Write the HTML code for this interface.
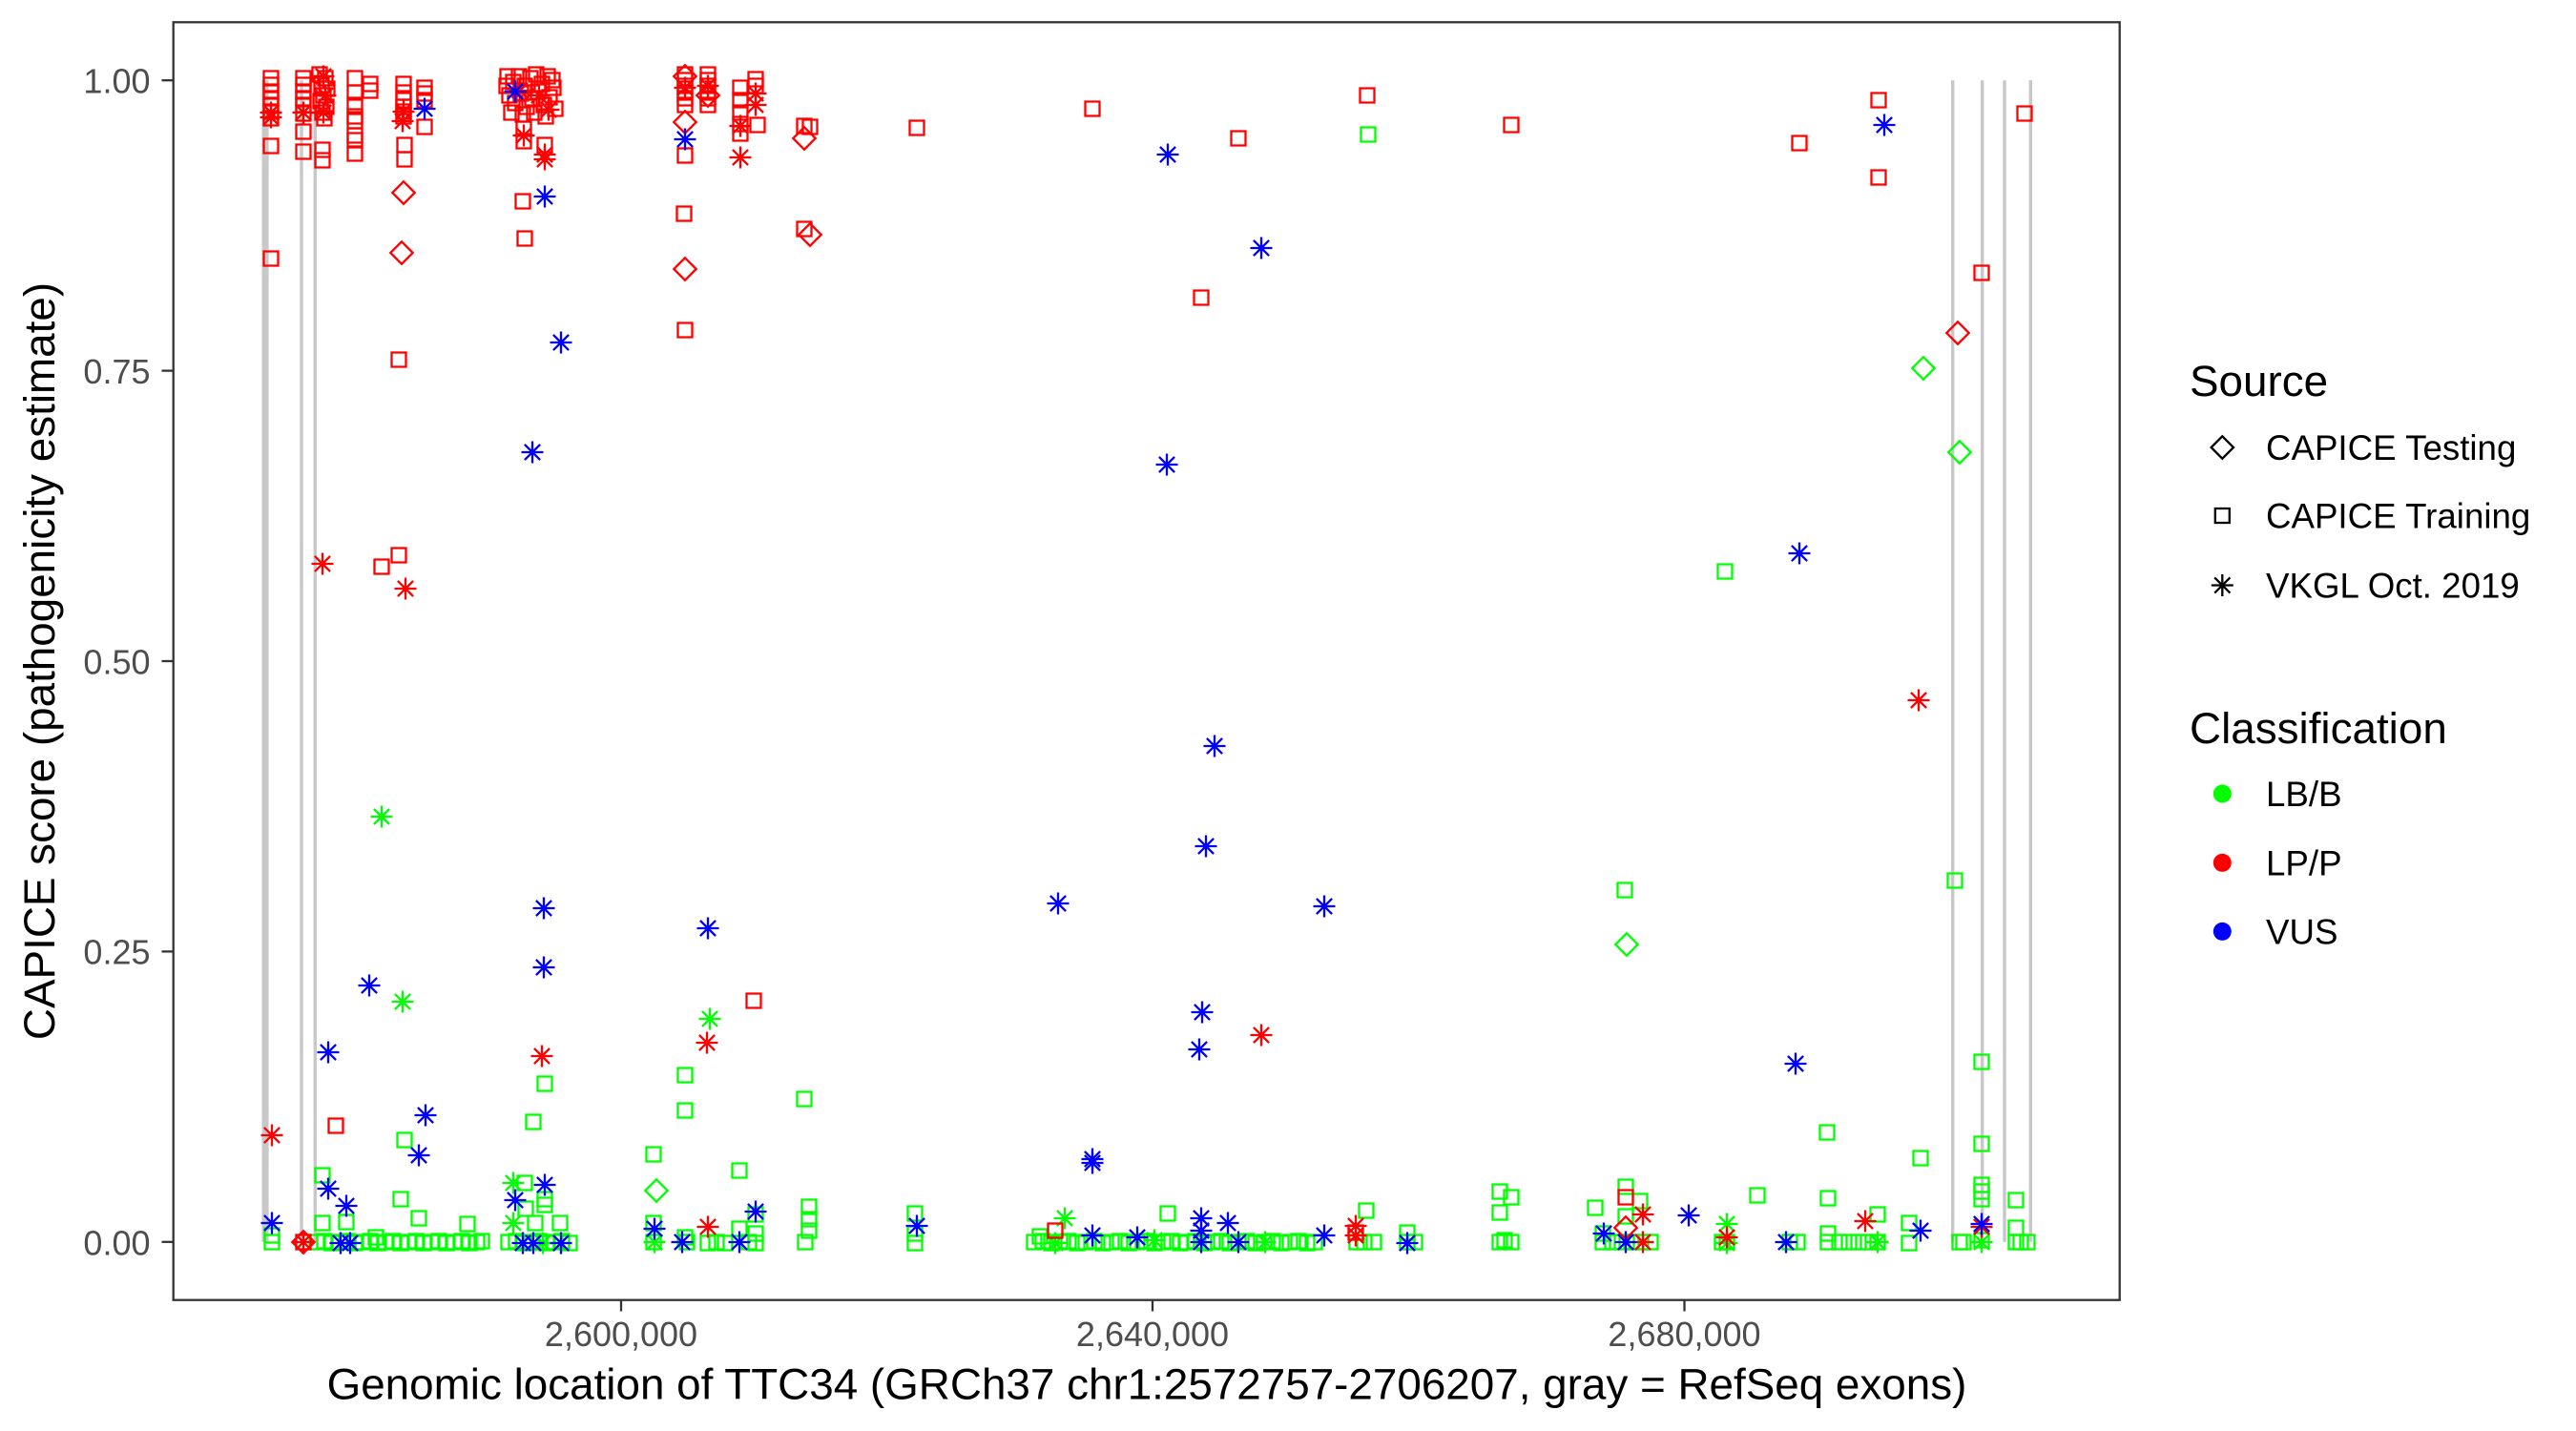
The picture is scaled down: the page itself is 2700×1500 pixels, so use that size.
<!DOCTYPE html>
<html><head><meta charset="utf-8"><style>html,body{margin:0;padding:0;background:#fff}svg{display:block}text{font-family:"Liberation Sans",Arial,sans-serif}</style></head>
<body>
<svg width="2700" height="1500" viewBox="0 0 2700 1500" xmlns="http://www.w3.org/2000/svg">
<defs>
<path id="s" d="M-7.5 -7.5H7.5V7.5H-7.5Z"/>
<path id="d" d="M0 -11.7L11.7 0L0 11.7L-11.7 0Z"/>
<path id="a" d="M0 -11.5V11.5M-11.5 0H11.5M-8.1 -8.1L8.1 8.1M-8.1 8.1L8.1 -8.1"/>
</defs>
<rect width="2700" height="1500" fill="#fff"/>
<g fill="#c8c8c8">
<rect x="274.5" y="84.2" width="7.1" height="1217.6"/>
<rect x="314.3" y="84.2" width="3.4" height="1217.6"/>
<rect x="328.6" y="84.2" width="3.4" height="1217.6"/>
<rect x="2045" y="84.2" width="3.4" height="1217.6"/>
<rect x="2076" y="84.2" width="3.4" height="1217.6"/>
<rect x="2099.3" y="84.2" width="3.4" height="1217.6"/>
<rect x="2126.6" y="84.2" width="3.4" height="1217.6"/>
</g>
<g fill="none" stroke="#00ff00" stroke-width="2.3">
<use href="#s" x="1434" y="141"/><use href="#s" x="2049" y="923"/><use href="#s" x="1703" y="933"/><use href="#s" x="1808" y="599"/><use href="#s" x="2077" y="1113"/><use href="#s" x="2077" y="1199"/><use href="#s" x="2077" y="1242"/><use href="#s" x="2077" y="1249"/><use href="#s" x="2077" y="1257"/><use href="#s" x="2113" y="1258"/><use href="#s" x="2113" y="1287"/><use href="#s" x="2113" y="1302"/><use href="#s" x="2125" y="1302"/><use href="#s" x="1915" y="1187"/><use href="#s" x="2013" y="1214"/><use href="#s" x="1916" y="1256"/><use href="#s" x="1916" y="1293"/><use href="#s" x="1916" y="1302"/><use href="#s" x="1928" y="1302"/><use href="#s" x="1938" y="1302"/><use href="#s" x="1948" y="1302"/><use href="#s" x="1958" y="1302"/><use href="#s" x="1968" y="1302"/><use href="#s" x="1968" y="1273"/><use href="#s" x="2001" y="1282"/><use href="#s" x="2001" y="1303"/><use href="#s" x="2054" y="1302"/><use href="#s" x="2058" y="1302"/><use href="#s" x="2077" y="1300"/><use href="#s" x="2118" y="1302"/>
<use href="#s" x="1842" y="1253"/><use href="#s" x="1884" y="1302"/><use href="#s" x="1876" y="1302"/><use href="#s" x="1810" y="1302"/><use href="#s" x="1805" y="1302"/>
<use href="#s" x="1672" y="1266"/><use href="#s" x="1704" y="1244"/><use href="#s" x="1719" y="1259"/><use href="#s" x="1680" y="1302"/><use href="#s" x="1690" y="1302"/><use href="#s" x="1700" y="1302"/><use href="#s" x="1710" y="1302"/><use href="#s" x="1720" y="1302"/><use href="#s" x="1730" y="1302"/><use href="#s" x="1704" y="1275"/><use href="#s" x="1680" y="1293"/>
<use href="#s" x="1572" y="1249"/><use href="#s" x="1584" y="1255"/><use href="#s" x="1572" y="1271"/><use href="#s" x="1572" y="1302"/><use href="#s" x="1584" y="1302"/><use href="#s" x="1577" y="1300"/>
<use href="#s" x="1432" y="1269"/><use href="#s" x="1430" y="1302"/><use href="#s" x="1440" y="1302"/><use href="#s" x="1475" y="1292"/><use href="#s" x="1475" y="1302"/><use href="#s" x="1483" y="1302"/><use href="#s" x="1422" y="1302"/>
<use href="#s" x="1084" y="1302"/><use href="#s" x="1093" y="1301"/><use href="#s" x="1102" y="1303"/><use href="#s" x="1111" y="1302"/><use href="#s" x="1120" y="1301"/><use href="#s" x="1129" y="1303"/><use href="#s" x="1138" y="1302"/><use href="#s" x="1147" y="1301"/><use href="#s" x="1156" y="1303"/><use href="#s" x="1165" y="1302"/><use href="#s" x="1174" y="1301"/><use href="#s" x="1183" y="1303"/><use href="#s" x="1192" y="1302"/><use href="#s" x="1201" y="1301"/><use href="#s" x="1210" y="1303"/><use href="#s" x="1219" y="1302"/><use href="#s" x="1228" y="1301"/><use href="#s" x="1237" y="1303"/>
<use href="#s" x="1224" y="1272"/><use href="#s" x="1090" y="1296"/>
<use href="#s" x="1244" y="1302"/><use href="#s" x="1253" y="1301"/><use href="#s" x="1262" y="1303"/><use href="#s" x="1271" y="1302"/><use href="#s" x="1280" y="1301"/><use href="#s" x="1289" y="1303"/><use href="#s" x="1298" y="1302"/><use href="#s" x="1307" y="1301"/><use href="#s" x="1316" y="1303"/><use href="#s" x="1325" y="1302"/><use href="#s" x="1334" y="1301"/><use href="#s" x="1343" y="1303"/><use href="#s" x="1352" y="1302"/><use href="#s" x="1361" y="1301"/><use href="#s" x="1370" y="1303"/><use href="#s" x="1378" y="1302"/>
<use href="#s" x="424" y="1195"/><use href="#s" x="420" y="1257"/><use href="#s" x="439" y="1277"/><use href="#s" x="490" y="1283"/><use href="#s" x="394" y="1297"/><use href="#s" x="338" y="1232"/><use href="#s" x="338" y="1282"/><use href="#s" x="363" y="1281"/><use href="#s" x="285" y="1302"/><use href="#s" x="285" y="1295"/>
<use href="#s" x="332" y="1302"/><use href="#s" x="340" y="1301"/><use href="#s" x="348" y="1303"/><use href="#s" x="356" y="1302"/><use href="#s" x="364" y="1301"/><use href="#s" x="372" y="1303"/><use href="#s" x="380" y="1302"/><use href="#s" x="388" y="1301"/><use href="#s" x="396" y="1303"/><use href="#s" x="404" y="1302"/><use href="#s" x="412" y="1301"/><use href="#s" x="420" y="1303"/><use href="#s" x="428" y="1302"/><use href="#s" x="436" y="1301"/><use href="#s" x="444" y="1303"/><use href="#s" x="452" y="1302"/><use href="#s" x="460" y="1301"/><use href="#s" x="468" y="1303"/><use href="#s" x="476" y="1302"/><use href="#s" x="484" y="1301"/><use href="#s" x="492" y="1303"/><use href="#s" x="500" y="1302"/><use href="#s" x="505" y="1301"/>
<use href="#s" x="571" y="1136"/><use href="#s" x="559" y="1176"/><use href="#s" x="550" y="1240"/><use href="#s" x="571" y="1257"/><use href="#s" x="571" y="1263"/><use href="#s" x="551" y="1267"/><use href="#s" x="561" y="1282"/><use href="#s" x="587" y="1282"/>
<use href="#s" x="533" y="1302"/><use href="#s" x="541" y="1301"/><use href="#s" x="549" y="1303"/><use href="#s" x="557" y="1302"/><use href="#s" x="565" y="1301"/><use href="#s" x="573" y="1303"/><use href="#s" x="581" y="1302"/><use href="#s" x="589" y="1301"/><use href="#s" x="597" y="1303"/>
<use href="#s" x="718" y="1127"/><use href="#s" x="718" y="1164"/><use href="#s" x="685" y="1210"/><use href="#s" x="775" y="1227"/><use href="#s" x="843" y="1152"/><use href="#s" x="685" y="1282"/><use href="#s" x="718" y="1297"/><use href="#s" x="742" y="1303"/><use href="#s" x="760" y="1303"/><use href="#s" x="775" y="1288"/><use href="#s" x="792" y="1273"/><use href="#s" x="792" y="1293"/><use href="#s" x="792" y="1303"/><use href="#s" x="848" y="1265"/><use href="#s" x="848" y="1278"/><use href="#s" x="848" y="1290"/><use href="#s" x="844" y="1302"/><use href="#s" x="959" y="1272"/><use href="#s" x="959" y="1293"/><use href="#s" x="959" y="1303"/><use href="#s" x="685" y="1302"/><use href="#s" x="720" y="1302"/><use href="#s" x="751" y="1302"/><use href="#s" x="785" y="1302"/>
<use href="#d" x="2016" y="386"/><use href="#d" x="2054" y="474"/><use href="#d" x="1705" y="990"/><use href="#d" x="688" y="1248"/>
<use href="#a" x="400" y="856"/><use href="#a" x="422" y="1050"/><use href="#a" x="744" y="1068"/><use href="#a" x="538" y="1240"/><use href="#a" x="538" y="1282"/><use href="#a" x="569" y="1303"/><use href="#a" x="588" y="1303"/><use href="#a" x="686" y="1302"/><use href="#a" x="1116" y="1277"/><use href="#a" x="1106" y="1303"/><use href="#a" x="1210" y="1300"/><use href="#a" x="1326" y="1302"/><use href="#a" x="1810" y="1283"/><use href="#a" x="1810" y="1303"/><use href="#a" x="1968" y="1302"/><use href="#a" x="2077" y="1302"/>
</g>
<g fill="none" stroke="#ff0000" stroke-width="2.3">
<use href="#s" x="284" y="82"/><use href="#s" x="284" y="89"/><use href="#s" x="284" y="96"/><use href="#s" x="284" y="103"/><use href="#s" x="284" y="110"/><use href="#s" x="284" y="117"/><use href="#s" x="284" y="124"/><use href="#s" x="284" y="153"/><use href="#s" x="284" y="271"/>
<use href="#s" x="318" y="82"/><use href="#s" x="318" y="89"/><use href="#s" x="318" y="96"/><use href="#s" x="318" y="103"/><use href="#s" x="318" y="110"/><use href="#s" x="318" y="119"/><use href="#s" x="318" y="138"/><use href="#s" x="318" y="159"/>
<use href="#s" x="335" y="78"/><use href="#s" x="341" y="82"/><use href="#s" x="337" y="89"/><use href="#s" x="343" y="93"/><use href="#s" x="339" y="100"/><use href="#s" x="336" y="106"/><use href="#s" x="342" y="112"/><use href="#s" x="338" y="118"/><use href="#s" x="340" y="124"/><use href="#s" x="338" y="157"/><use href="#s" x="338" y="168"/>
<use href="#s" x="372" y="82"/><use href="#s" x="372" y="97"/><use href="#s" x="372" y="110"/><use href="#s" x="372" y="122"/><use href="#s" x="372" y="127"/><use href="#s" x="372" y="142"/><use href="#s" x="372" y="147"/><use href="#s" x="372" y="161"/>
<use href="#s" x="388" y="88"/><use href="#s" x="388" y="95"/>
<use href="#s" x="423" y="88"/><use href="#s" x="423" y="97"/><use href="#s" x="423" y="105"/><use href="#s" x="423" y="112"/><use href="#s" x="423" y="117"/><use href="#s" x="423" y="122"/><use href="#s" x="424" y="152"/><use href="#s" x="424" y="167"/><use href="#s" x="418" y="377"/>
<use href="#s" x="445" y="92"/><use href="#s" x="445" y="98"/><use href="#s" x="445" y="105"/><use href="#s" x="445" y="133"/>
<use href="#s" x="532" y="80"/><use href="#s" x="538" y="86"/><use href="#s" x="544" y="80"/><use href="#s" x="550" y="90"/><use href="#s" x="556" y="82"/><use href="#s" x="562" y="78"/><use href="#s" x="568" y="88"/><use href="#s" x="574" y="80"/><use href="#s" x="580" y="92"/><use href="#s" x="534" y="100"/><use href="#s" x="540" y="108"/><use href="#s" x="546" y="98"/><use href="#s" x="552" y="112"/><use href="#s" x="558" y="104"/><use href="#s" x="564" y="96"/><use href="#s" x="570" y="110"/><use href="#s" x="576" y="102"/><use href="#s" x="582" y="114"/><use href="#s" x="536" y="118"/><use href="#s" x="548" y="120"/><use href="#s" x="560" y="118"/><use href="#s" x="572" y="122"/><use href="#s" x="549" y="135"/><use href="#s" x="549" y="148"/><use href="#s" x="571" y="152"/><use href="#s" x="548" y="211"/><use href="#s" x="550" y="250"/><use href="#s" x="531" y="90"/><use href="#s" x="579" y="84"/>
<use href="#s" x="718" y="78"/><use href="#s" x="718" y="84"/><use href="#s" x="718" y="90"/><use href="#s" x="718" y="97"/><use href="#s" x="718" y="103"/><use href="#s" x="718" y="110"/><use href="#s" x="742" y="78"/><use href="#s" x="742" y="84"/><use href="#s" x="742" y="90"/><use href="#s" x="742" y="97"/><use href="#s" x="742" y="103"/><use href="#s" x="742" y="110"/><use href="#s" x="718" y="163"/><use href="#s" x="717" y="224"/><use href="#s" x="718" y="346"/>
<use href="#s" x="792" y="83"/><use href="#s" x="792" y="90"/><use href="#s" x="776" y="92"/><use href="#s" x="776" y="105"/><use href="#s" x="776" y="118"/><use href="#s" x="776" y="130"/><use href="#s" x="776" y="140"/><use href="#s" x="794" y="131"/>
<use href="#s" x="843" y="132"/><use href="#s" x="849" y="133"/><use href="#s" x="843" y="240"/>
<use href="#s" x="961" y="134"/><use href="#s" x="1145" y="114"/><use href="#s" x="1298" y="145"/><use href="#s" x="1259" y="312"/><use href="#s" x="1433" y="100"/><use href="#s" x="1584" y="131"/><use href="#s" x="1886" y="150"/><use href="#s" x="1969" y="105"/><use href="#s" x="1969" y="186"/><use href="#s" x="2122" y="119"/><use href="#s" x="2077" y="286"/><use href="#s" x="400" y="594"/><use href="#s" x="418" y="582"/><use href="#s" x="352" y="1180"/><use href="#s" x="790" y="1049"/><use href="#s" x="1106" y="1290"/><use href="#s" x="1704" y="1255"/><use href="#s" x="318" y="1302"/><use href="#s" x="1421" y="1292"/>
<use href="#d" x="423" y="202"/><use href="#d" x="421" y="265"/><use href="#d" x="718" y="128"/><use href="#d" x="718" y="282"/><use href="#d" x="843" y="145"/><use href="#d" x="849" y="246"/><use href="#d" x="718" y="80"/><use href="#d" x="742" y="100"/><use href="#d" x="2052" y="349"/><use href="#d" x="1704" y="1287"/><use href="#d" x="318" y="1302"/>
<use href="#a" x="284" y="118"/><use href="#a" x="284" y="123"/><use href="#a" x="318" y="118"/><use href="#a" x="339" y="80"/><use href="#a" x="341" y="100"/><use href="#a" x="339" y="118"/><use href="#a" x="423" y="117"/><use href="#a" x="422" y="127"/><use href="#a" x="549" y="142"/><use href="#a" x="571" y="162"/><use href="#a" x="571" y="167"/><use href="#a" x="545" y="95"/><use href="#a" x="565" y="100"/><use href="#a" x="575" y="115"/><use href="#a" x="718" y="92"/><use href="#a" x="742" y="90"/><use href="#a" x="776" y="132"/><use href="#a" x="776" y="165"/><use href="#a" x="792" y="98"/><use href="#a" x="792" y="110"/><use href="#a" x="425" y="617"/><use href="#a" x="338" y="591"/><use href="#a" x="2011" y="734"/><use href="#a" x="1322" y="1085"/><use href="#a" x="285" y="1190"/><use href="#a" x="568" y="1107"/><use href="#a" x="741" y="1093"/><use href="#a" x="742" y="1286"/><use href="#a" x="1421" y="1285"/><use href="#a" x="1421" y="1295"/><use href="#a" x="1722" y="1273"/><use href="#a" x="1722" y="1302"/><use href="#a" x="1810" y="1297"/><use href="#a" x="1955" y="1280"/><use href="#a" x="2077" y="1286"/><use href="#a" x="318" y="1302"/>
</g>
<g fill="none" stroke="#0000ff" stroke-width="2.3">
<use href="#a" x="540" y="96"/><use href="#a" x="445" y="114"/><use href="#a" x="718" y="146"/><use href="#a" x="571" y="206"/><use href="#a" x="588" y="359"/><use href="#a" x="558" y="474"/><use href="#a" x="1975" y="131"/><use href="#a" x="1224" y="162"/><use href="#a" x="1322" y="260"/><use href="#a" x="1223" y="487"/><use href="#a" x="1273" y="782"/><use href="#a" x="1264" y="887"/><use href="#a" x="1260" y="1061"/><use href="#a" x="1257" y="1100"/><use href="#a" x="1109" y="947"/><use href="#a" x="1388" y="950"/><use href="#a" x="1145" y="1215"/><use href="#a" x="1145" y="1219"/><use href="#a" x="1886" y="580"/><use href="#a" x="1882" y="1115"/><use href="#a" x="387" y="1033"/><use href="#a" x="344" y="1103"/><use href="#a" x="446" y="1169"/><use href="#a" x="439" y="1211"/><use href="#a" x="570" y="952"/><use href="#a" x="570" y="1014"/><use href="#a" x="742" y="973"/><use href="#a" x="285" y="1282"/><use href="#a" x="344" y="1246"/><use href="#a" x="363" y="1264"/><use href="#a" x="357" y="1303"/><use href="#a" x="367" y="1303"/><use href="#a" x="571" y="1242"/><use href="#a" x="540" y="1258"/><use href="#a" x="548" y="1303"/><use href="#a" x="559" y="1303"/><use href="#a" x="588" y="1303"/><use href="#a" x="686" y="1288"/><use href="#a" x="715" y="1302"/><use href="#a" x="775" y="1302"/><use href="#a" x="792" y="1270"/><use href="#a" x="961" y="1285"/><use href="#a" x="1145" y="1295"/><use href="#a" x="1192" y="1297"/><use href="#a" x="1259" y="1277"/><use href="#a" x="1259" y="1290"/><use href="#a" x="1259" y="1302"/><use href="#a" x="1287" y="1282"/><use href="#a" x="1298" y="1302"/><use href="#a" x="1388" y="1295"/><use href="#a" x="1475" y="1303"/><use href="#a" x="1681" y="1293"/><use href="#a" x="1704" y="1302"/><use href="#a" x="1770" y="1274"/><use href="#a" x="1872" y="1302"/><use href="#a" x="2013" y="1290"/><use href="#a" x="2077" y="1283"/>
</g>
<rect x="181.7" y="23.3" width="2040" height="1339.4" fill="none" stroke="#333333" stroke-width="2.3"/>
<g stroke="#333333" stroke-width="2.3">
<line x1="169.5" y1="84.2" x2="181.7" y2="84.2"/><line x1="169.5" y1="388.6" x2="181.7" y2="388.6"/><line x1="169.5" y1="693" x2="181.7" y2="693"/><line x1="169.5" y1="997.4" x2="181.7" y2="997.4"/><line x1="169.5" y1="1301.8" x2="181.7" y2="1301.8"/>
<line x1="651" y1="1362.7" x2="651" y2="1374.5"/><line x1="1208" y1="1362.7" x2="1208" y2="1374.5"/><line x1="1765.5" y1="1362.7" x2="1765.5" y2="1374.5"/>
</g>
<g font-size="36" fill="#4d4d4d" text-anchor="end">
<text x="157.5" y="97.5">1.00</text><text x="157.5" y="401.9">0.75</text><text x="157.5" y="706.3">0.50</text><text x="157.5" y="1010.7">0.25</text><text x="157.5" y="1315.5">0.00</text>
</g>
<g font-size="36" fill="#4d4d4d" text-anchor="middle">
<text x="651" y="1411">2,600,000</text><text x="1208" y="1411">2,640,000</text><text x="1765.5" y="1411">2,680,000</text>
</g>
<text x="1202" y="1466.7" font-size="45.8" fill="#000" text-anchor="middle">Genomic location of TTC34 (GRCh37 chr1:2572757-2706207, gray = RefSeq exons)</text>
<text transform="translate(57,693) rotate(-90)" font-size="45.8" fill="#000" text-anchor="middle">CAPICE score (pathogenicity estimate)</text>
<text x="2295" y="415" font-size="45.8" fill="#000">Source</text>
<g fill="none" stroke="#000" stroke-width="2.3">
<use href="#d" x="2329.3" y="469"/><use href="#s" x="2329.3" y="540.5"/><use href="#a" x="2329.3" y="613.5"/>
</g>
<g font-size="36.7" fill="#000">
<text x="2375" y="482.2">CAPICE Testing</text><text x="2375" y="553.7">CAPICE Training</text><text x="2375" y="626.7">VKGL Oct. 2019</text>
</g>
<text x="2295" y="779" font-size="45.8" fill="#000">Classification</text>
<circle cx="2329.3" cy="832" r="9.5" fill="#00ff00"/>
<circle cx="2329.3" cy="904.4" r="9.5" fill="#ff0000"/>
<circle cx="2329.3" cy="976.4" r="9.5" fill="#0000ff"/>
<g font-size="36.7" fill="#000">
<text x="2375" y="845.2">LB/B</text><text x="2375" y="917.6">LP/P</text><text x="2375" y="989.6">VUS</text>
</g>
</svg>
</body></html>
